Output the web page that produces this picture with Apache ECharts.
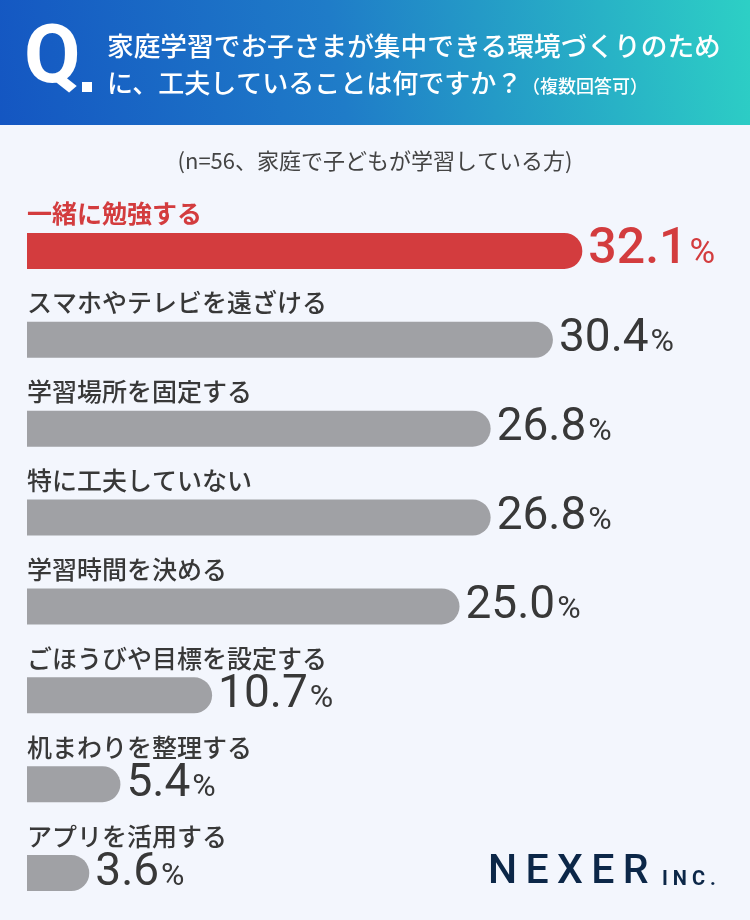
<!DOCTYPE html>
<html>
<head>
<meta charset="utf-8">
<script src="https://cdn.jsdelivr.net/npm/echarts@6/dist/echarts.min.js"></script>
<style>
  html, body { margin: 0; padding: 0; background: #f3f6fd; }
  #main { width: 750px; height: 920px; }
</style>
</head>
<body>
<div id="main"></div>
<script>
// 項目（上から順）
var categories = [
  '一緒に勉強する',
  'スマホやテレビを遠ざける',
  '学習場所を固定する',
  '特に工夫していない',
  '学習時間を決める',
  'ごほうびや目標を設定する',
  '机まわりを整理する',
  'アプリを活用する'
];
// 回答率（%）
var values = [32.1, 30.4, 26.8, 26.8, 25.0, 10.7, 5.4, 3.6];

var RED = '#d33c3e';
var GRAY = '#a0a1a5';
var TEXT = '#383838';

var myChart = echarts.init(document.getElementById('main'));

// 棒と数値ラベル
var seriesData = values.map(function (v, i) {
  var top = i === 0;
  return {
    value: v,
    itemStyle: { color: top ? RED : GRAY },
    label: {
      rich: {
        n: {
          fontSize: top ? 50 : 46,
          fontWeight: top ? 500 : 400,
          fontFamily: 'Roboto',
          color: top ? RED : TEXT
        },
        p: {
          fontSize: top ? 35 : 32,
          fontWeight: 400,
          fontFamily: 'Roboto',
          color: top ? RED : TEXT,
          padding: [top ? 7 : 7, 0, 0, 2]
        }
      }
    }
  };
});

// 項目名ラベル（棒の上に表示）
var nameData = values.map(function (v, i) {
  return {
    value: v,
    label: { color: i === 0 ? RED : TEXT, fontWeight: i === 0 ? 700 : 500 }
  };
});

var option = {
  backgroundColor: '#f3f6fd',
  animation: false,
  graphic: [
    {
      type: 'rect',
      shape: { x: 0, y: 0, width: 750, height: 125 },
      style: {
        fill: {
          type: 'linear', x: 0, y: 1, x2: 1, y2: 0,
          colorStops: [
            { offset: 0, color: '#1456c2' },
            { offset: 0.45, color: '#1f7cc8' },
            { offset: 1, color: '#2dd0c5' }
          ]
        }
      }
    },
    {
      type: 'text', left: 24, top: 20,
      style: { text: 'Q', fill: '#fff', font: 'bold 82px Roboto' }
    },
    {
      type: 'rect',
      shape: { x: 82, y: 82, width: 10, height: 10 },
      style: { fill: '#fff' }
    },
    {
      type: 'text', left: 107, top: 33,
      style: { text: '家庭学習でお子さまが集中できる環境づくりのため', fill: '#fff', font: '500 26.7px "Noto Sans CJK JP"' }
    },
    {
      type: 'text', left: 107, top: 70,
      style: { text: 'に、工夫していることは何ですか？', fill: '#fff', font: '500 26px "Noto Sans CJK JP"' }
    },
    {
      type: 'text', left: 522, top: 77,
      style: { text: '（複数回答可）', fill: '#fff', font: '500 18px "Noto Sans CJK JP"' }
    },
    {
      type: 'text', left: 'center', top: 150,
      style: { text: '(n=56、家庭で子どもが学習している方)', fill: '#444', font: '22px "Noto Sans CJK JP"' }
    },
    {
      type: 'text', left: 488, top: 852,
      style: { text: 'N\u2009E\u2009X\u2009E\u2009R', fill: '#0c2748', font: '500 41px Roboto' }
    },
    {
      type: 'text', left: 662, top: 870,
      style: { text: 'I N C .', fill: '#0c2748', font: 'bold 20px Roboto' }
    }
  ],
  grid: {
    left: 27,
    right: 31,
    top: 206.5,
    bottom: 2.5
  },
  xAxis: {
    type: 'value',
    min: 0,
    max: 40,
    show: false
  },
  yAxis: {
    type: 'category',
    data: categories,
    inverse: true,
    show: false
  },
  series: [
    {
      type: 'bar',
      data: seriesData,
      barWidth: 36,
      itemStyle: { borderRadius: [0, 18, 18, 0] },
      label: {
        show: true,
        position: 'right',
        distance: 6,
        formatter: function (p) {
          return '{n|' + p.value.toFixed(1) + '}{p|%}';
        }
      }
    },
    {
      type: 'bar',
      data: nameData,
      barWidth: 36,
      barGap: '-100%',
      itemStyle: { color: 'transparent' },
      z: 3,
      label: {
        show: true,
        position: 'insideLeft',
        distance: 0,
        offset: [0, -37],
        fontSize: 25,
        fontFamily: 'Noto Sans CJK JP',
        formatter: function (p) {
          return p.name;
        }
      }
    }
  ]
};

myChart.setOption(option);
</script>
</body>
</html>
